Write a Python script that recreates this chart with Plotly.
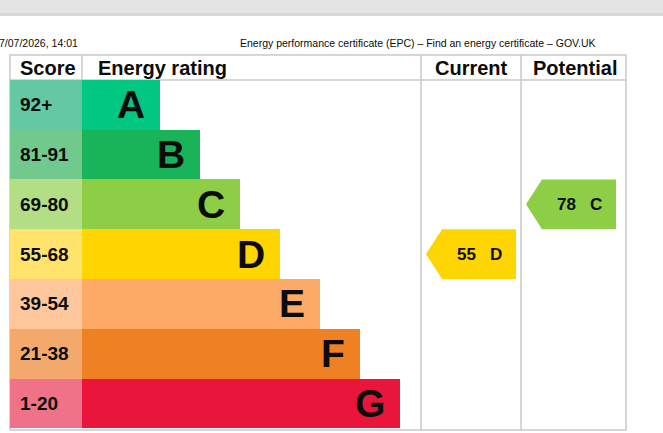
import plotly.graph_objects as go

# ---------------- data ----------------
ratings = ["A", "B", "C", "D", "E", "F", "G"]
score_labels = ["92+", "81-91", "69-80", "55-68", "39-54", "21-38", "1-20"]
band_min = [92, 81, 69, 55, 39, 21, 1]
bar_lengths = [78, 118, 158, 198, 238, 278, 318]   # length of each rating bar (px)
bar_colors = ["#00c781", "#19b459", "#8dce46", "#ffd500", "#fcaa65", "#ef8023", "#e9153b"]
score_colors = ["#64c8a3", "#72c98e", "#b3de86", "#ffe36c", "#fdc79b", "#f4a96c", "#ef7289"]
current_value = 55
potential_value = 78
header_left = "7/07/2026, 14:01"
header_right = "Energy performance certificate (EPC) \u2013 Find an energy certificate \u2013 GOV.UK"
col_titles = ["Score", "Energy rating", "Current", "Potential"]

# ---------------- layout constants (px) ----------------
W, H = 663, 433
tbl_left, tbl_right, tbl_top, head_bot, tbl_bot = 10, 626, 55, 80, 430
score_right = 82
cur_left, pot_left = 421, 521
body_top, row_h = 79.8, 49.8
FONT = "Liberation Sans, Arial, sans-serif"
INK = "#0b0c0c"
GRID = "#c9c9c9"

def row_of(p):
    return (p - body_top) / row_h - 0.5

def py(p):  # paper y from pixel
    return 1 - p / H

def band_index(v):
    for i, m in enumerate(band_min):
        if v >= m:
            return i
    return len(band_min) - 1

rows = list(range(len(ratings)))
fig = go.Figure()
annotations = []

# score column
fig.add_trace(go.Bar(orientation="h", y=rows, x=[score_right - tbl_left] * len(rows), base=tbl_left,
                     width=1, marker=dict(color=score_colors, line=dict(width=0)), hoverinfo="skip"))
# rating bars
fig.add_trace(go.Bar(orientation="h", y=rows, x=bar_lengths, base=score_right,
                     width=1, marker=dict(color=bar_colors, line=dict(width=0)), hoverinfo="skip"))

# current / potential arrows
def arrow(value, left, right, tip_len=16, pad=5):
    i = band_index(value)
    tip = left + pad
    xs = [tip, tip + tip_len, right - pad, right - pad, tip + tip_len, tip]
    ys = [i, i - 0.5, i - 0.5, i + 0.5, i + 0.5, i]
    fig.add_trace(go.Scatter(x=xs, y=ys, fill="toself", mode="lines", line=dict(width=0),
                             fillcolor=bar_colors[i], hoverinfo="skip"))
    annotations.append(dict(x=(tip + tip_len + right - pad) / 2, y=i, xref="x", yref="y",
                            text=f"<b>{value}\u00a0\u00a0\u00a0{ratings[i]}</b>", showarrow=False,
                            font=dict(family=FONT, size=17, color=INK), xanchor="center", yanchor="middle"))

arrow(current_value, cur_left, pot_left)
arrow(potential_value, pot_left, tbl_right - 5)

for i, (r, s) in enumerate(zip(ratings, score_labels)):
    annotations.append(dict(x=score_right + bar_lengths[i] - 13, y=i, xref="x", yref="y", text=f"<b>{r}</b>",
                            showarrow=False, xanchor="right", yanchor="middle",
                            font=dict(family=FONT, size=39, color=INK)))
    annotations.append(dict(x=tbl_left + 8, y=i, xref="x", yref="y", text=f"<b>{s}</b>",
                            showarrow=False, xanchor="left", yanchor="middle",
                            font=dict(family=FONT, size=19, color=INK)))

head_y = py(68)
for txt, x, anc in [(col_titles[0], 18, "left"), (col_titles[1], 96, "left"),
                    (col_titles[2], 471, "center"), (col_titles[3], 575, "center")]:
    annotations.append(dict(x=x, y=head_y, xref="x", yref="paper", text=f"<b>{txt}</b>", showarrow=False,
                            xanchor=anc, yanchor="middle", font=dict(family=FONT, size=20, color=INK)))

annotations.append(dict(x=0, xshift=-3, y=py(43), xref="x", yref="paper", text=header_left, showarrow=False,
                        xanchor="left", yanchor="middle", font=dict(family=FONT, size=10.5, color=INK)))
annotations.append(dict(x=598, y=py(43), xref="x", yref="paper", text=header_right, showarrow=False,
                        xanchor="right", yanchor="middle", font=dict(family=FONT, size=10.5, color=INK)))

shapes = [
    dict(type="rect", xref="x", yref="paper", x0=0, x1=W, y0=py(0), y1=py(15), fillcolor="#e4e4e4",
         line=dict(width=0), layer="below"),
    dict(type="rect", xref="x", yref="paper", x0=0, x1=W, y0=py(13), y1=py(16), fillcolor="#d8d8d8",
         line=dict(width=0), layer="below"),
    dict(type="rect", xref="x", yref="paper", x0=tbl_left, x1=tbl_right, y0=py(tbl_top), y1=py(tbl_bot),
         line=dict(color=GRID, width=1.5), layer="below"),
    dict(type="line", xref="x", yref="paper", x0=tbl_left, x1=tbl_right, y0=py(head_bot), y1=py(head_bot),
         line=dict(color=GRID, width=1.5), layer="below"),
    dict(type="line", xref="x", yref="paper", x0=score_right, x1=score_right, y0=py(tbl_top), y1=py(head_bot),
         line=dict(color=GRID, width=1.5), layer="below"),
    dict(type="line", xref="x", yref="paper", x0=cur_left, x1=cur_left, y0=py(tbl_top), y1=py(tbl_bot),
         line=dict(color=GRID, width=1.5), layer="below"),
    dict(type="line", xref="x", yref="paper", x0=pot_left, x1=pot_left, y0=py(tbl_top), y1=py(tbl_bot),
         line=dict(color=GRID, width=1.5), layer="below"),
]

fig.layout.annotations = annotations
fig.layout.shapes = shapes
fig.update_layout(
    width=W, height=H, autosize=False, margin=dict(l=0, r=0, t=0, b=0),
    paper_bgcolor="white", plot_bgcolor="white", showlegend=False, barmode="overlay",
    bargap=0,
    xaxis=dict(range=[0, W], domain=[0, 1], visible=False, fixedrange=True),
    yaxis=dict(range=[row_of(H), row_of(0)], domain=[0, 1], visible=False, fixedrange=True),
)

fig.write_html("out.html", config={"displayModeBar": False},
               post_script="document.body.style.margin='0';document.body.style.overflow='hidden';")
